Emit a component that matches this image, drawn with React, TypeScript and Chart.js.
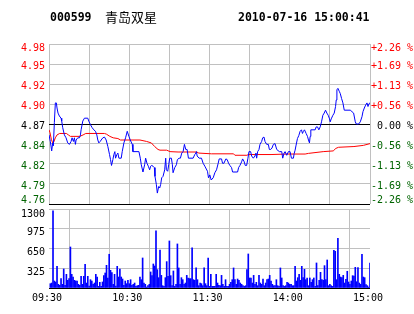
import React, { useEffect, useRef } from 'react';
import { Chart, registerables } from 'chart.js';

Chart.register(...registerables);

// ---------- data ----------
const stockCode = '000599';
const stockName = '青岛双星';
const timestamp = '2010-07-16 15:00:41';

const prevClose = 4.87;
const priceRange = 0.11; // ±2.26 %

const priceTickLabels = ['4.76', '4.79', '4.82', '4.84', '4.87', '4.90', '4.92', '4.95', '4.98'];
const pctTickLabels = ['-2.26 %', '-1.69 %', '-1.13 %', '-0.56 %', ' 0.00 %', '+0.56 %', '+1.13 %', '+1.69 %', '+2.26 %'];

const volumeMax = 1300;
const volumeTickValues = [325, 650, 975, 1300];
const volumeTickLabels = ['325', '650', '975', '1300'];

const timeTickMinutes = [0, 60, 120, 180, 240];
const timeTickLabels = ['09:30', '10:30', '11:30', '14:00', '15:00'];

// price line (minute from 09:30, price)
const priceMinutes = [
  0, 1, 2, 2.75, 3.25, 4, 4.75, 5.5, 6, 6.75, 7.75, 9, 9.5, 10.25, 11.5, 12.75, 14, 15.25, 16.5, 17.25,
  18.25, 19, 19.75, 20.25, 21.5, 22.75, 23.5, 24, 25.25, 26.5, 29, 29.75, 31, 32.25, 33.5, 34.75, 35.75, 36.5, 37.25, 38.25,
  39, 40.25, 41.5, 42.75, 44, 45.25, 46, 46.75, 47.75, 48.5, 49.25, 49.75, 50.75, 51.5, 52.25, 54, 54.75, 56, 57.25, 58.5,
  59.75, 60.75, 62.25, 62.75, 67.25, 68.25, 69, 70.25, 71.5, 72.25, 73.25, 74.25, 75.25, 76, 76.75, 77.75, 78.75, 79.25, 80.25, 81,
  82, 82.75, 83.5, 84.25, 85.25, 86.5, 87.25, 87.75, 88.75, 89.5, 90.25, 91.5, 92.25, 92.75, 94, 95.25, 96, 97.25, 98.25, 99.25,
  100.25, 101.25, 102.25, 103.25, 104.25, 107.75, 109, 109.75, 110.25, 110.75, 112.25, 114, 115.25, 116.5,
  118.5, 119.25, 120.25, 121.25, 122.75, 124, 125.25, 126.5, 127.25, 129, 129.75, 130.75, 132.25, 133.25, 134.25, 135.25, 136.5, 137.25,
  141, 141.75, 142.75, 144, 144.75, 145.75, 146.75, 147.75, 148.75, 149.5, 150.75, 151.5, 152.75, 154, 154.75, 155.25, 156, 157, 157.75,
  159, 159.75, 160.75, 161.5, 162.75, 164, 164.75, 165.75, 166.75, 167.75, 169, 170.25, 172.25, 174, 174.75, 175.75, 176.5,
  177.75, 179, 180.25, 181.25, 182.75, 183.25, 184, 184.75, 185.75, 186.75, 187.75, 188.75, 189.5, 190.25, 191, 192.25, 193.25, 194,
  194.75, 195.25, 195.75, 199, 199.75, 200.75, 201.75, 202.75, 203.75, 204.75, 205.75, 206.75, 207.75, 208.75, 209.75, 210.25, 211,
  212.25, 213.25, 214.25, 214.75, 215.25, 216, 217, 217.75, 218.75, 219.75, 220.75, 225.25, 226.5, 227.75, 229, 229.75, 231.5,
  232.75, 234, 234.75, 235.75, 236.75, 237.75, 238.5, 239.25, 240,
];
const priceValues = [
  4.855, 4.846, 4.833, 4.844, 4.840, 4.872, 4.899, 4.899, 4.892, 4.885, 4.881, 4.878, 4.874, 4.865, 4.855, 4.851, 4.844, 4.842, 4.846, 4.851,
  4.846, 4.851, 4.842, 4.848, 4.851, 4.851, 4.855, 4.862, 4.874, 4.878, 4.878, 4.874, 4.869, 4.865, 4.862, 4.860, 4.855, 4.848, 4.844, 4.846,
  4.848, 4.851, 4.852, 4.848, 4.839, 4.828, 4.821, 4.813, 4.821, 4.828, 4.832, 4.823, 4.828, 4.830, 4.823, 4.823, 4.832, 4.844, 4.851, 4.860,
  4.853, 4.848, 4.842, 4.832, 4.832, 4.823, 4.814, 4.804, 4.814, 4.823, 4.816, 4.812, 4.807, 4.812, 4.813, 4.812, 4.810, 4.798, 4.787, 4.775,
  4.784, 4.782, 4.787, 4.796, 4.798, 4.807, 4.823, 4.807, 4.805, 4.814, 4.823, 4.823, 4.814, 4.803, 4.810, 4.814, 4.821, 4.823, 4.823, 4.830,
  4.832, 4.842, 4.835, 4.835, 4.823, 4.823, 4.828, 4.830, 4.832, 4.826, 4.823, 4.823, 4.816, 4.812,
  4.805, 4.796, 4.800, 4.793, 4.796, 4.803, 4.807, 4.816, 4.822, 4.822, 4.816, 4.816, 4.822, 4.821, 4.816, 4.813, 4.810, 4.804,
  4.804, 4.810, 4.813, 4.818, 4.822, 4.819, 4.813, 4.813, 4.823, 4.832, 4.832, 4.826, 4.823, 4.826, 4.830, 4.823, 4.832, 4.835, 4.842,
  4.846, 4.851, 4.852, 4.846, 4.842, 4.842, 4.835, 4.835, 4.837, 4.842, 4.843, 4.835, 4.832, 4.832, 4.823, 4.830, 4.832,
  4.827, 4.832, 4.832, 4.823, 4.823, 4.829, 4.834, 4.841, 4.850, 4.854, 4.860, 4.862, 4.857, 4.860, 4.862, 4.857, 4.853, 4.848,
  4.844, 4.853, 4.862, 4.862, 4.866, 4.866, 4.862, 4.866, 4.873, 4.882, 4.885, 4.889, 4.885, 4.882, 4.877, 4.873, 4.877,
  4.882, 4.885, 4.894, 4.903, 4.917, 4.919, 4.915, 4.912, 4.905, 4.899, 4.889, 4.889, 4.887, 4.885, 4.873, 4.870, 4.870,
  4.873, 4.880, 4.887, 4.892, 4.896, 4.899, 4.894, 4.898, 4.899,
];

// average price line
const avgMinutes = [
  0, 0.75, 1.75, 2.75, 3.5, 4.75, 6, 8, 13, 14.5, 16, 23, 25.5, 27.5, 41.5, 43, 45.5, 48, 51.5, 53.5,
  68, 73, 76.5, 79, 81.5, 83, 88, 90.5, 96.5, 110.5, 112, 121.5, 138, 139, 148, 149, 166, 178, 191.5, 194,
  205, 212.5, 214.5, 216.5, 228, 235, 240,
];
const avgValues = [
  4.862, 4.858, 4.849, 4.844, 4.845, 4.851, 4.855, 4.857, 4.857, 4.855, 4.853, 4.853, 4.855, 4.857, 4.857, 4.856, 4.853, 4.851, 4.850, 4.848,
  4.848, 4.846, 4.844, 4.839, 4.835, 4.834, 4.834, 4.832, 4.8315, 4.8315, 4.830, 4.829, 4.829, 4.827, 4.827, 4.828, 4.828, 4.8287, 4.8287, 4.8296,
  4.832, 4.833, 4.8365, 4.838, 4.839, 4.8406, 4.843,
];

// per-minute volume, minutes 1..240
const volumes = [
  71, 82, 1268, 115, 99, 357, 60, 44, 154, 60,
  313, 44, 225, 126, 154, 675, 225, 181, 126, 115,
  115, 60, 44, 192, 60, 192, 390, 82, 192, 33,
  137, 115, 60, 82, 225, 181, 27, 93, 27, 99,
  203, 247, 373, 165, 555, 291, 253, 60, 225, 33,
  357, 181, 313, 181, 148, 44, 115, 71, 126,
  71, 137, 44, 60, 82, 27, 38, 44, 181, 137,
  494, 82, 60, 16, 38, 60, 264, 203, 395, 362,
  939, 302, 170, 626, 208, 38, 27, 170, 434, 192,
  774, 203, 38, 280, 27, 60, 725, 330, 60, 170,
  137, 60, 82, 208, 165, 154, 154, 659, 137, 126,
  330, 137, 38, 82, 71, 38, 330, 71, 38, 494,
  27,
  225, 27, 27, 27, 225, 82, 44, 38, 208, 60,
  27, 137, 27, 27, 60, 93, 137, 330, 137, 60,
  148, 126, 82, 60, 38, 27, 38, 302, 560, 165,
  165, 82, 208, 60, 93, 38, 208, 82, 60, 148,
  38, 82, 137, 148, 208, 115, 60, 38, 38, 137,
  38, 27, 330, 165, 38, 27, 38, 93,
  82, 60, 60, 38, 38, 357, 115, 170, 225, 126,
  357, 170, 307, 137, 165, 38, 165, 93, 137, 165,
  27, 412, 38, 126, 258, 137, 126, 368, 137, 461,
  38, 60, 38, 27, 620, 604, 137, 818, 225, 181,
  170, 208, 82, 143, 275, 99, 60, 115, 203, 198,
  340, 104, 335, 82, 60, 554, 181, 170, 55, 38,
  16, 412,
];

// ---------- style ----------
const RED = '#ff0000';
const GREEN = '#006400';
const GRID = '#c0c0c0';
const BLUE = '#0000ff';
const MONO = '"DejaVu Sans Mono", monospace';

const priceTickValues = priceTickLabels.map((_, k) => prevClose + (priceRange * (k - 4)) / 4);

const priceLabelsPlugin = {
  id: 'priceLabels',
  afterDraw(chart: any) {
    const { ctx, chartArea: a } = chart;
    const ys = chart.scales.y;
    ctx.save();
    ctx.font = `10px ${MONO}`;
    ctx.textBaseline = 'alphabetic';
    priceTickValues.forEach((v, i) => {
      let cy = ys.getPixelForValue(v) + 1;
      cy = Math.max(a.top + 3.4, Math.min(a.bottom - 4.2, cy));
      const by = cy + 3.6;
      const d = v - prevClose;
      ctx.fillStyle = Math.abs(d) < 1e-6 ? '#000' : d > 0 ? RED : GREEN;
      ctx.textAlign = 'right';
      ctx.fillText(priceTickLabels[i], a.left - 4, by);
      ctx.textAlign = 'left';
      ctx.fillText(pctTickLabels[i], a.right + 1, by);
    });
    ctx.fillStyle = '#000';
    ctx.textAlign = 'left';
    ctx.font = `bold 11.5px ${MONO}`;
    ctx.fillText(stockCode, 50, 21);
    ctx.fillText(timestamp, 238, 21);
    ctx.font = '13px "Noto Sans CJK SC"';
    ctx.fillText(stockName, 105, 21.5);
    ctx.restore();
  },
};

const volumeLabelsPlugin = {
  id: 'volumeLabels',
  afterDraw(chart: any) {
    const { ctx, chartArea: a } = chart;
    const ys = chart.scales.y;
    ctx.save();
    ctx.font = `10px ${MONO}`;
    ctx.textBaseline = 'alphabetic';
    ctx.textAlign = 'right';
    ctx.fillStyle = '#000';
    volumeTickValues.forEach((v, i) => {
      let cy = ys.getPixelForValue(v) + 3;
      cy = Math.max(a.top + 4.3, cy);
      ctx.fillText(volumeTickLabels[i], a.left - 4, cy + 3.6);
    });
    ctx.restore();
  },
};

export default function App() {
  const priceRef = useRef<HTMLCanvasElement>(null);
  const volRef = useRef<HTMLCanvasElement>(null);

  useEffect(() => {
    const xGrid = { color: GRID, lineWidth: 1, drawTicks: false };

    const priceChart = new Chart(priceRef.current as HTMLCanvasElement, {
      type: 'line',
      data: {
        datasets: [
          {
            data: priceMinutes.map((m, i) => ({ x: m, y: priceValues[i] })),
            borderColor: BLUE,
            borderWidth: 1,
            pointRadius: 0,
            tension: 0,
            fill: false,
          },
          {
            data: avgMinutes.map((m, i) => ({ x: m, y: avgValues[i] })),
            borderColor: RED,
            borderWidth: 1,
            pointRadius: 0,
            tension: 0,
            fill: false,
          },
        ],
      },
      options: {
        responsive: false,
        animation: false,
        devicePixelRatio: 1,
        events: [],
        layout: { padding: { top: 44, bottom: 2, left: 0, right: 0 } },
        plugins: { legend: { display: false }, tooltip: { enabled: false } },
        scales: {
          x: {
            type: 'linear',
            min: 0,
            max: 240,
            ticks: { stepSize: 30, display: false },
            grid: xGrid,
            border: { display: false },
            afterFit: (s: any) => {
              s.height = 0;
            },
          },
          y: {
            type: 'linear',
            position: 'left',
            min: prevClose - priceRange,
            max: prevClose + priceRange,
            afterBuildTicks: (s: any) => {
              s.ticks = priceTickValues.map((v) => ({ value: v }));
            },
            ticks: { display: false },
            grid: {
              drawTicks: false,
              lineWidth: 1,
              color: (c: any) => {
                const v = c.tick ? c.tick.value : 0;
                if (Math.abs(v - prevClose) < 1e-6 || Math.abs(v - (prevClose - priceRange)) < 1e-6) return '#000';
                return GRID;
              },
            },
            border: { display: false },
            afterFit: (s: any) => {
              s.width = 49;
            },
          },
          y2: {
            type: 'linear',
            position: 'right',
            min: prevClose - priceRange,
            max: prevClose + priceRange,
            ticks: { display: false },
            grid: { display: false, drawTicks: false },
            border: { display: false },
            afterFit: (s: any) => {
              s.width = 44;
            },
          },
        },
      } as any,
      plugins: [priceLabelsPlugin],
    });

    const volChart = new Chart(volRef.current as HTMLCanvasElement, {
      type: 'bar',
      data: {
        datasets: [
          {
            data: volumes.map((v, i) => ({ x: i + 1, y: v })),
            backgroundColor: BLUE,
            borderWidth: 0,
            barThickness: 1,
          },
        ],
      },
      options: {
        responsive: false,
        animation: false,
        devicePixelRatio: 1,
        events: [],
        layout: { padding: { top: 3, bottom: 0, left: 0, right: 44 } },
        plugins: { legend: { display: false }, tooltip: { enabled: false } },
        scales: {
          x: {
            type: 'linear',
            offset: false,
            min: 0,
            max: 240,
            ticks: {
              stepSize: 30,
              autoSkip: false,
              maxRotation: 0,
              minRotation: 0,
              padding: 4,
              labelOffset: -2,
              color: '#000',
              font: { family: MONO, size: 10 },
              callback: (v: any) => {
                const k = timeTickMinutes.indexOf(Number(v));
                return k >= 0 ? timeTickLabels[k] : '';
              },
            },
            grid: xGrid,
            border: { display: false },
            afterFit: (s: any) => {
              s.height = 26;
            },
          },
          y: {
            type: 'linear',
            position: 'left',
            min: 0,
            max: volumeMax,
            ticks: { display: false, stepSize: 325 },
            grid: {
              drawTicks: false,
              lineWidth: 1,
              color: (c: any) => (c.tick && c.tick.value === 0 ? '#000' : GRID),
            },
            border: { display: false },
            afterFit: (s: any) => {
              s.width = 49;
            },
          },
        },
      } as any,
      plugins: [volumeLabelsPlugin],
    });

    return () => {
      priceChart.destroy();
      volChart.destroy();
    };
  }, []);

  return (
    <div style={{ position: 'fixed', left: 0, top: 0, width: 414, height: 314, background: '#fff', overflow: 'hidden' }}>
      <canvas ref={priceRef} width={414} height={206} style={{ position: 'absolute', left: 0, top: 0 }} />
      <canvas ref={volRef} width={414} height={108} style={{ position: 'absolute', left: 0, top: 206 }} />
    </div>
  );
}
